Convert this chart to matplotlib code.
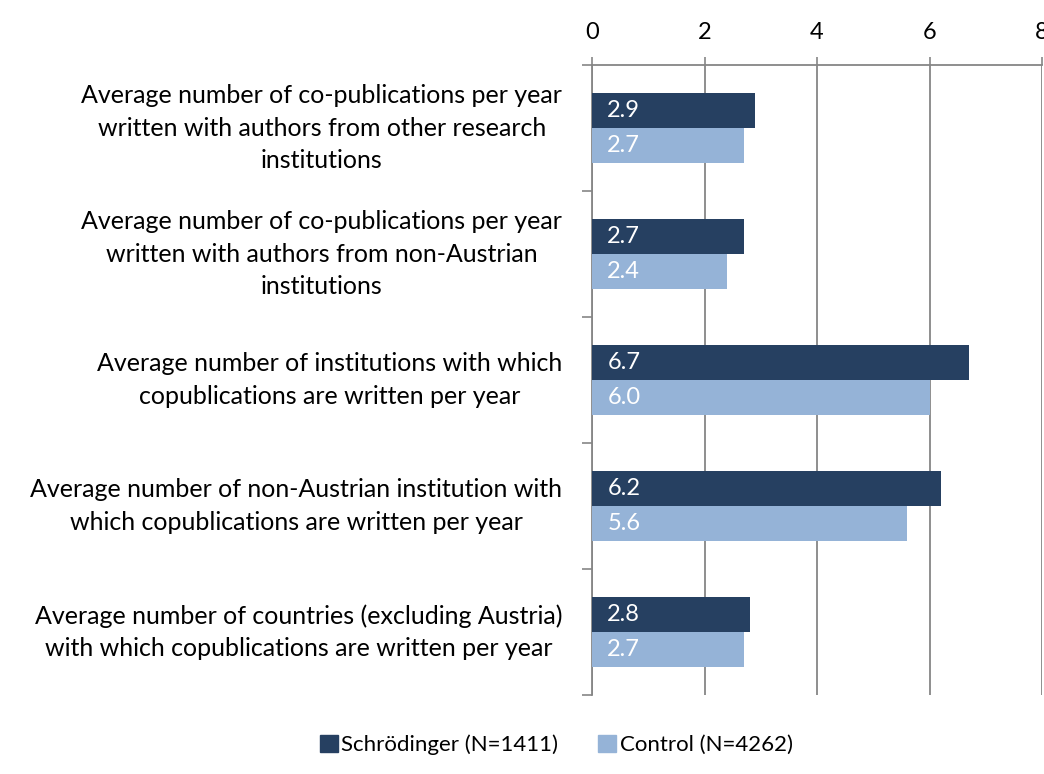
import numpy as np
import matplotlib.pyplot as plt
from matplotlib.patches import Patch

plt.rcParams['font.family'] = ['Lato', 'DejaVu Sans']

categories = [
    "Average number of co-publications per year\nwritten with authors from other research\ninstitutions",
    "Average number of co-publications per year\nwritten with authors from non-Austrian\ninstitutions",
    "Average number of institutions with which\ncopublications are written per year",
    "Average number of non-Austrian institution with\nwhich copublications are written per year",
    "Average number of countries (excluding Austria)\nwith which copublications are written per year",
]
schroedinger = [2.9, 2.7, 6.7, 6.2, 2.8]
control = [2.7, 2.4, 6.0, 5.6, 2.7]
series_names = ["Schrödinger (N=1411)", "Control (N=4262)"]
x_ticks = [0, 2, 4, 6, 8]

dark = '#264061'
light = '#95B3D7'
grid_col = '#868686'

fig = plt.figure(figsize=(10.44, 7.74), dpi=100)
ax = fig.add_axes([592 / 1044, 1 - 695 / 774, 450 / 1044, 630 / 774])

y = np.arange(len(categories))
h = 0.28
b1 = ax.barh(y - h / 2, schroedinger, height=h, color=dark, zorder=3)
b2 = ax.barh(y + h / 2, control, height=h, color=light, zorder=3)

for bars, vals in ((b1, schroedinger), (b2, control)):
    for rect, v in zip(bars, vals):
        ax.annotate(f"{v:.1f}", (0, rect.get_y() + rect.get_height() / 2),
                    xytext=(11, 0), textcoords='offset points',
                    ha='left', va='center', color='white', fontsize=17, zorder=4)

ax.set_xlim(0, 8)
ax.set_ylim(len(categories) - 0.5, -0.5)
ax.set_xticks(x_ticks)
ax.xaxis.tick_top()
ax.tick_params(axis='x', length=6, width=1.2, color=grid_col, labelsize=17, pad=10)
ax.grid(axis='x', color=grid_col, linewidth=1.3, zorder=0)

ax.set_yticks(np.arange(len(categories) + 1) - 0.5)
ax.set_yticklabels([])
ax.tick_params(axis='y', length=7, width=1.2, color=grid_col)
for i, lab in enumerate(categories):
    ax.text(-0.53, i, lab, ha='right', va='center', multialignment='center',
            fontsize=18, linespacing=1.5)

for s in ['right', 'bottom']:
    ax.spines[s].set_visible(False)
ax.spines['left'].set_color(grid_col)
ax.spines['left'].set_linewidth(1.3)
ax.spines['top'].set_color(grid_col)
ax.spines['top'].set_linewidth(1.3)

handles = [Patch(color=dark), Patch(color=light)]
fig.legend(handles, series_names, loc='center', bbox_to_anchor=(0.533, 1 - 745 / 774),
           ncol=2, frameon=False, fontsize=16, handlelength=0.8, handleheight=0.8,
           handletextpad=0.15, columnspacing=1.8)

fig.savefig('out.png', dpi=100)
